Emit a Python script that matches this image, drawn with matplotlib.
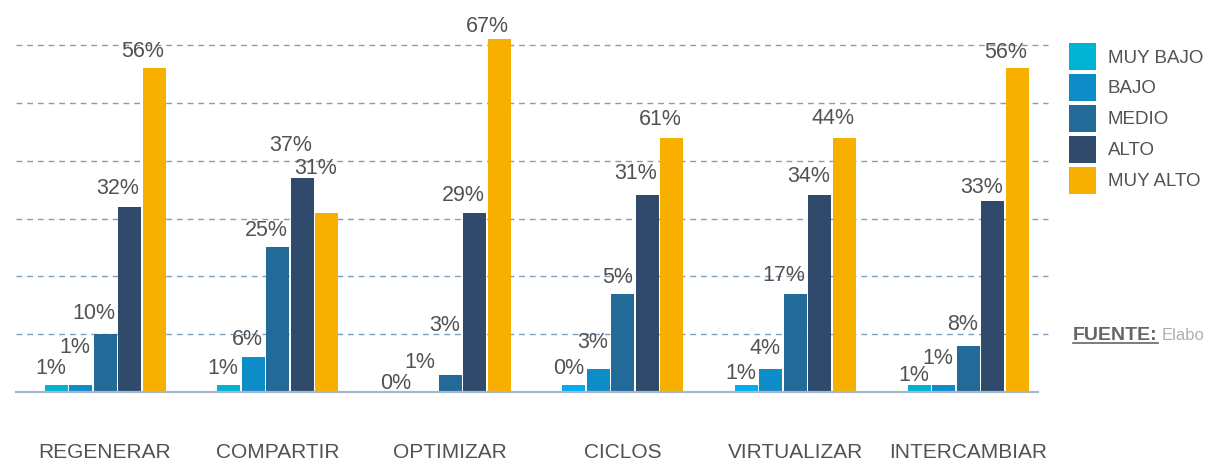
import matplotlib
matplotlib.use("Agg")
import matplotlib.pyplot as plt
from matplotlib.patches import Patch
from matplotlib.lines import Line2D

# ---- data ----
categories = ["REGENERAR", "COMPARTIR", "OPTIMIZAR", "CICLOS", "VIRTUALIZAR", "INTERCAMBIAR"]
series = ["MUY BAJO", "BAJO", "MEDIO", "ALTO", "MUY ALTO"]

# bar heights as drawn (percent)
muy_bajo = [1.2, 1.2, 0, 1.2, 1.2, 1.2]
bajo = [1.2, 6, 0, 4, 4, 1.2]
medio = [10, 25, 3, 17, 17, 8]
alto = [32, 37, 31, 34, 34, 33]
muy_alto = [56, 31, 61, 44, 44, 56]

# printed labels
lbl_muy_bajo = ["1%", "1%", "0%", "0%", "1%", "1%"]
lbl_bajo = ["1%", "6%", "1%", "3%", "4%", "1%"]
lbl_medio = ["10%", "25%", "3%", "5%", "17%", "8%"]
lbl_alto = ["32%", "37%", "29%", "31%", "34%", "33%"]
lbl_muy_alto = ["56%", "31%", "67%", "61%", "44%", "56%"]

values = [muy_bajo, bajo, medio, alto, muy_alto]
labels = [lbl_muy_bajo, lbl_bajo, lbl_medio, lbl_alto, lbl_muy_alto]

source_label = "FUENTE:"
source_text = "Elabo"

# ---- style ----
colors = ["#00b3d3", "#0e8cc7", "#226a97", "#2f4a6b", "#f8b000"]
alt_first_color = {3: "#00aeef", 4: "#00aeef"}
# vertical label raise above bar top (pixels), per series x category
label_raise = [
    [17, 17, 9, 17, 12, 10],
    [38, 18, 30, 26, 20, 27],
    [21, 17, 49, 16, 18, 21],
    [18, 33, 17, 22, 19, 14],
    [17, 44, 13, 18, 19, 16],
]
text_color = "#525252"
W, H = 1208, 461
fig = plt.figure(figsize=(W / 100, H / 100), dpi=100)
left_px, right_px, base_px, top_px = 16, 1038, 392, 0
ax = fig.add_axes([left_px / W, (H - base_px) / H, (right_px - left_px) / W, (base_px - top_px) / H])

group_px = 172.6
step = 24.5 / group_px
width = 23 / group_px
px_per_unit = 57.83 / 10

ax.set_xlim((left_px - 105) / group_px, (right_px - 105) / group_px)
ax.set_ylim(0, (base_px - top_px) / px_per_unit)

fam = ["Liberation Sans", "DejaVu Sans"]

for k, (vals, labs) in enumerate(zip(values, labels)):
    xs = [g + (k - 2) * step for g in range(len(categories))]
    cols = [colors[k]] * len(categories)
    if k == 0:
        for g, c in alt_first_color.items():
            cols[g] = c
    ax.bar(xs, vals, width=width, color=cols, zorder=3, linewidth=0)
    for g, (x, v, t) in enumerate(zip(xs, vals, labs)):
        ax.annotate(t, xy=(x + width / 2, v), xytext=(-1.5, label_raise[k][g]),
                    textcoords="offset pixels", ha="right", va="center",
                    fontsize=15.5, color=text_color, family=fam, zorder=5,
                    annotation_clip=False)

# gridlines
for yv in range(10, 70, 10):
    ax.axhline(yv, xmin=0, xmax=1.01, color="#7f9dbd", lw=1.0,
               linestyle=(0, (4.2, 3.5)), zorder=1, clip_on=False)
ax.axhline(0, color="#a7b8cb", lw=1.6, zorder=4, clip_on=False)

for s in ax.spines.values():
    s.set_visible(False)
ax.set_xticks([])
ax.set_yticks([])

# category labels
for g, c in enumerate(categories):
    ax.annotate(c, xy=(g, 0), xytext=(0, -66), textcoords="offset pixels",
                ha="center", va="baseline", fontsize=15, color=text_color,
                family=fam, annotation_clip=False)

# legend
handles = [Patch(facecolor=c, edgecolor="none") for c in colors]
leg = fig.legend(handles, series, loc="upper left",
                 bbox_to_anchor=(1069 / W, 1 - 43 / H), frameon=False,
                 handlelength=1.45, handleheight=1.85,
                 handletextpad=0.62, labelspacing=0.2, borderpad=0,
                 borderaxespad=0, prop={"family": fam, "size": 13.5})
for t in leg.get_texts():
    t.set_color(text_color)

# source note
t1 = fig.text(1073 / W, 1 - 335 / H, source_label, fontsize=14, fontweight="bold",
              color="#666666", family=fam, ha="left", va="center")
fig.canvas.draw()
r = fig.canvas.get_renderer()
bb = t1.get_window_extent(r)
fig.add_artist(Line2D([bb.x0, bb.x1], [bb.y0 + 1, bb.y0 + 1], transform=None,
                      color="#666666", lw=1.2))
fig.text((bb.x1 + 4) / W, 1 - 335 / H, source_text, fontsize=12,
         color="#b0b0b0", family=fam, ha="left", va="center")

fig.savefig("out.png", dpi=100)
